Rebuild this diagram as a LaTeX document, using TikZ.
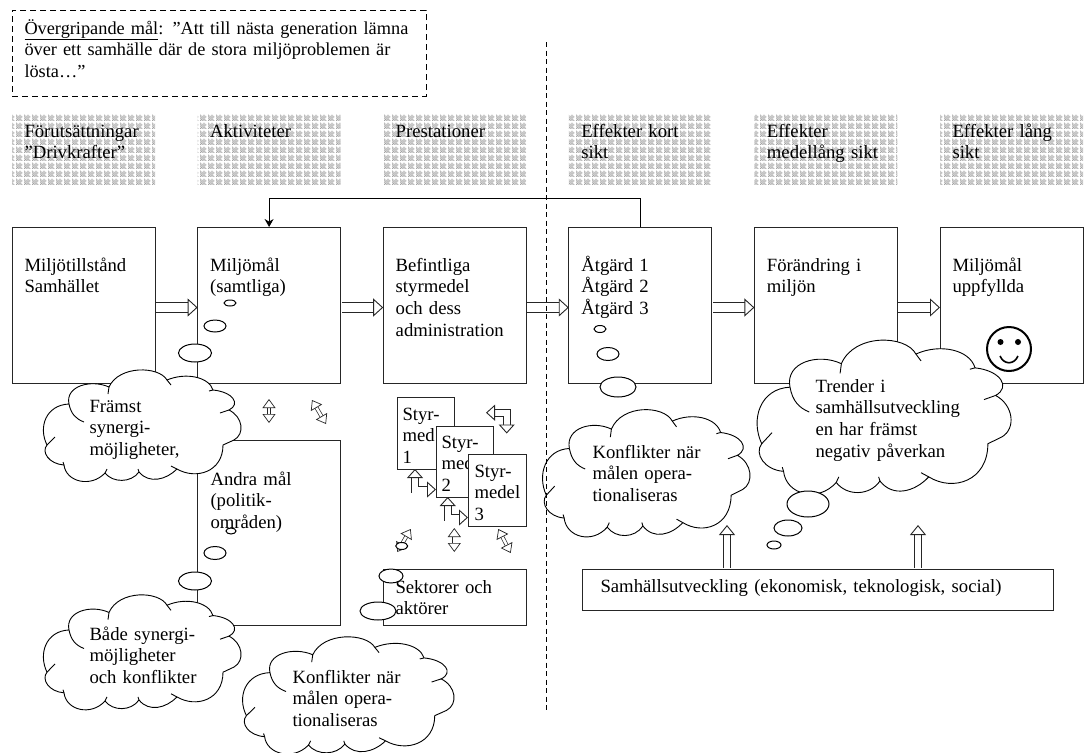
\documentclass[tikz,border=0pt]{standalone}
\usepackage{fontspec}
\setmainfont{Liberation Serif}
\usetikzlibrary{positioning,arrows.meta,patterns,shapes.geometric}

\newcommand{\ditherdot}[2]{\pgfpathrectangle{\pgfqpoint{#1pt}{#2pt}}{\pgfqpoint{1pt}{1pt}}}
\pgfdeclarepatternformonly{dither}{\pgfqpoint{0pt}{0pt}}{\pgfqpoint{8pt}{8pt}}{\pgfqpoint{8pt}{8pt}}{%
    \ditherdot{0}{0}\ditherdot{2}{0}\ditherdot{4}{0}\ditherdot{6}{0}%
    \ditherdot{1}{1}\ditherdot{3}{1}\ditherdot{5}{1}%
    \ditherdot{0}{2}\ditherdot{2}{2}\ditherdot{4}{2}%
    \ditherdot{1}{3}\ditherdot{3}{3}\ditherdot{5}{3}%
    \ditherdot{0}{4}\ditherdot{2}{4}\ditherdot{4}{4}\ditherdot{6}{4}%
    \ditherdot{1}{5}\ditherdot{3}{5}\ditherdot{5}{5}%
    \ditherdot{0}{6}\ditherdot{4}{6}%
    \pgfusepath{fill}%
}

\begin{document}
\begin{tikzpicture}[
x=1pt, y=-1pt,
line width=1pt,
boxnode/.style={rectangle, draw=black!85, fill=white, minimum width=143, minimum height=156, inner sep=0, outer sep=0},
headnode/.style={rectangle, pattern=dither, pattern color=black!36, minimum width=143, minimum height=71, inner sep=0, outer sep=0},
textnode/.style={anchor=base west, inner sep=0, text width=#1, align=left, font=\fontsize{18.7}{21.7}\selectfont},
textnode/.default=130pt,
bubblenode/.style={ellipse, draw=black, fill=white, inner sep=0, outer sep=0},
widearrow/.style={draw=black!85, double, double distance=8.5pt, line width=.9pt, shorten <=1pt, -{Triangle[open, fill=white, length=10pt, width=18pt]}},
uparrow/.style={draw=black!85, double, double distance=6pt, line width=.9pt, shorten <=1pt, -{Triangle[open, fill=white, length=10pt, width=16pt]}},
smallarrow/.style={draw=black!85, double, double distance=2.5pt, line width=.7pt, {Triangle[open, fill=white, length=9pt, width=13pt]}-{Triangle[open, fill=white, length=9pt, width=13pt]}},
bentarrow/.style={draw=black!85, double, double distance=6pt, line width=.9pt, line join=miter, {Triangle[open, fill=white, length=9pt, width=16pt]}-{Triangle[open, fill=white, length=9pt, width=16pt]}},
cloudshape/.pic={
    \draw[fill=white, line width=.9pt, line join=round]
        (28,32) .. controls (24,14) and (50,7) .. (68,15)
        .. controls (78,-7) and (118,-6) .. (126,8)
        .. controls (145,0) and (168,5) .. (172,18)
        .. controls (192,20) and (200,32) .. (188,38)
        .. controls (202,45) and (204,62) .. (193,68)
        -- (182,73)
        .. controls (182,100) and (155,108) .. (136,97)
        .. controls (125,108) and (108,112) .. (98,100)
        .. controls (90,111) and (72,111) .. (64,101)
        .. controls (50,116) and (25,110) .. (23,93)
        .. controls (8,92) and (0,80) .. (6,73)
        .. controls (-3,55) and (5,33) .. (28,32);
    \draw[line width=.9pt]
        (28,32) .. controls (30,42) and (35,47) .. (43,50)
        (6,73) -- (14,65)
        (68,15) -- (67,22)
        (126,8) -- (130,13)
        (172,18) -- (168,19)
        (188,38) -- (179,41)
        (23,93) -- (22,90)
        (64,101) -- (66,97)
        (98,100) -- (97,97)
        (136,97) -- (130,94);
}
]
    \useasboundingbox (0,0) rectangle (1088,753);

    %Boxes
    \node[boxnode, anchor=north west]    (tillstand)  at (12,227) {};
    \node[boxnode, right=42.6pt of tillstand]   (miljomal)   {};
    \node[boxnode, right=42.6pt of miljomal]    (befintliga) {};
    \node[boxnode, right=42.6pt of befintliga]  (atgard)     {};
    \node[boxnode, right=42.6pt of atgard]      (forandring) {};
    \node[boxnode, right=42.6pt of forandring]  (uppfyllda)  {};

    \node[headnode, above=42pt of tillstand]    (hdrivkraft) {};
    \node[headnode, above=42pt of miljomal]     (haktivitet) {};
    \node[headnode, above=42pt of befintliga]   (hprestation) {};
    \node[headnode, above=42pt of atgard]       (hkort)      {};
    \node[headnode, above=42pt of forandring]   (hmedel)     {};
    \node[headnode, above=42pt of uppfyllda]    (hlang)      {};

    \node[boxnode, dash pattern=on 6pt off 4pt, draw=black, minimum width=414, minimum height=86, anchor=north west]
        (overgripande) at (12,10) {};
    \node[textnode=395pt, font=\fontsize{18.3}{21.7}\selectfont] (overtext) at (24,34)
        {\underline{Övergripande mål}: ”Att till nästa generation lämna\\över ett samhälle där de stora miljöproblemen är\\lösta…”};

    \node[boxnode, minimum height=185, anchor=north west] (andra) at (197.4,440) {};
    \node[boxnode, minimum height=56, anchor=north west]  (sektorer) at (383,569) {};
    \node[boxnode, minimum width=471, minimum height=41, anchor=north west] (samhalle) at (582,569) {};

    %Styrmedel
    \node[boxnode, minimum width=57, minimum height=72, anchor=north west] (styr1) at (397,397) {};
    \node[textnode=52pt] at (402,420) {Styr-\\med\\1};
    \node[boxnode, minimum width=57, minimum height=71, anchor=north west] (styr2) at (436,426) {};
    \node[textnode=52pt] at (441,448) {Styr-\\med\\2};
    \node[boxnode, minimum width=58, minimum height=72, anchor=north west] (styr3) at (468,454) {};
    \node[textnode=52pt] at (474,477) {Styr-\\medel\\3};

    %Labels
    \foreach \boxname/\boxtext in {tillstand/{Miljötillstånd\\Samhället}, miljomal/{Miljömål\\(samtliga)},
        befintliga/{Befintliga\\styrmedel\\och dess\\administration}, atgard/{Åtgärd 1\\Åtgärd 2\\Åtgärd 3},
        forandring/{Förändring i\\miljön}, uppfyllda/{Miljömål\\uppfyllda}}
        \node[textnode] at ([xshift=12pt,yshift=-44pt]\boxname.north west) {\boxtext};
    \foreach \boxname/\boxtext in {hdrivkraft/{Förutsättningar\\”Drivkrafter”}, haktivitet/{Aktiviteter},
        hprestation/{Prestationer}, hkort/{Effekter kort\\sikt}, hmedel/{Effekter\\medellång sikt}, hlang/{Effekter lång\\sikt}}
        \node[textnode] at ([xshift=12pt,yshift=-23pt]\boxname.north west) {\boxtext};
    \node[textnode=440pt] (samhtext) at (600,592) {Samhällsutveckling (ekonomisk, teknologisk, social)};

    %Smiley
    \node[circle, draw=black, line width=2pt, fill=white, minimum size=44, inner sep=0] (smiley) at (1009,349) {};
    \fill (1000.5,342) circle (3) (1018,342) circle (3);
    \draw[line width=1.6pt] (1000,356) .. controls (1004,365) and (1014,365) .. (1018,356);

    %Clouds
    \pic at (41,372) {cloudshape};
    \pic[yscale=1.03] at (41,597) {cloudshape};
    \pic[xscale=1.07,yscale=1.05] at (240,639) {cloudshape};
    \pic[xscale=1.05,yscale=1.14] at (540,412) {cloudshape};
    \pic[xscale=1.285,yscale=1.38] at (754,343) {cloudshape};

    %Bubbles
    \foreach \bubx/\buby/\bubw/\bubh/\bubname in {
        230/303/12/6/ma, 215/326/22/12/mb, 195/353/33/18/mc,
        231/531/10/6/aa, 215/553/22/13/ab, 195/581/33/18/ac,
        600/329/12/7/ta, 608/354/22/13/tb, 618/387/36/20/tc,
        808/504/42/26/ra, 788/528/28/16/rb, 774/545/14/8/rc,
        391/576/24/14/sa, 378/611/36/18/sb}
        \node[bubblenode, minimum width=\bubw, minimum height=\bubh] (bub\bubname) at (\bubx,\buby) {};

    %Cloud and box texts
    \node[textnode] (framst)  at (89,412)  {Främst\\synergi-\\möjligheter,};
    \node[textnode] (bade)    at (89,640)  {Både synergi-\\möjligheter\\och konflikter};
    \node[textnode] (konfl)   at (292,683) {Konflikter när\\målen opera-\\tionaliseras};
    \node[textnode] (konflr)  at (592,458) {Konflikter när\\målen opera-\\tionaliseras};
    \node[textnode=170pt] (trender) at (815,392) {Trender i\\samhällsutveckling\\en har främst\\negativ påverkan};
    \node[textnode] (andratext) at (210,485) {Andra mål\\(politik-\\områden)};
    \node[textnode] (sekttext)  at (395,593) {Sektorer och\\aktörer};

    %Lines
    \draw[->, >={Stealth[length=8pt,width=9pt]}, draw=black]
        (atgard.north) -- ++(0,-29) -| (miljomal.north);
    \foreach \froma/\toa in {tillstand/miljomal, miljomal/befintliga, befintliga/atgard, atgard/forandring, forandring/uppfyllda}
        \draw[widearrow] ([yshift=-2.5pt]\froma.east) -- ([yshift=-2.5pt]\toa.west);

    \coordinate (upa) at (727,525);
    \coordinate (upb) at (918,525);
    \draw[uparrow] (samhalle.north -| upa) -- (upa);
    \draw[uparrow] (samhalle.north -| upb) -- (upb);

    \coordinate (va) at (269,399);  \coordinate (vb) at (269,423);
    \coordinate (da) at (312,400);  \coordinate (db) at (326,424);
    \coordinate (sa) at (410.7,529); \coordinate (sb) at (397.3,552);
    \coordinate (sc) at (454.3,528); \coordinate (sd) at (454.3,552);
    \coordinate (se) at (498.3,529); \coordinate (sf) at (510.7,553);
    \draw[smallarrow] (va) -- (vb);
    \draw[smallarrow] (da) -- (db);
    \draw[smallarrow] (sa) -- (sb);
    \draw[smallarrow] (sc) -- (sd);
    \draw[smallarrow] (se) -- (sf);
    \node[bubblenode, minimum width=12, minimum height=7] (bubsc) at (401.7,546) {};

    \coordinate (ba) at (415,469);    \coordinate (bb) at (415,489.5);  \coordinate (bc) at (436,489.5);
    \coordinate (bd) at (447.7,497);  \coordinate (be) at (447.7,517.5); \coordinate (bf) at (468,517.5);
    \coordinate (bg) at (486,412.7);  \coordinate (bh) at (506.7,412.7); \coordinate (bi) at (506.7,433.5);
    \draw[bentarrow] (ba) -- (bb) -- (bc);
    \draw[bentarrow] (bd) -- (be) -- (bf);
    \draw[bentarrow] (bg) -- (bh) -- (bi);

    %Divider
    \coordinate (divtop) at (546,42);
    \coordinate (divbot) at (546,712);
    \draw[dash pattern=on 5pt off 3.5pt, draw=black, line width=1pt] (divtop) -- (divbot);
\end{tikzpicture}
\end{document}
